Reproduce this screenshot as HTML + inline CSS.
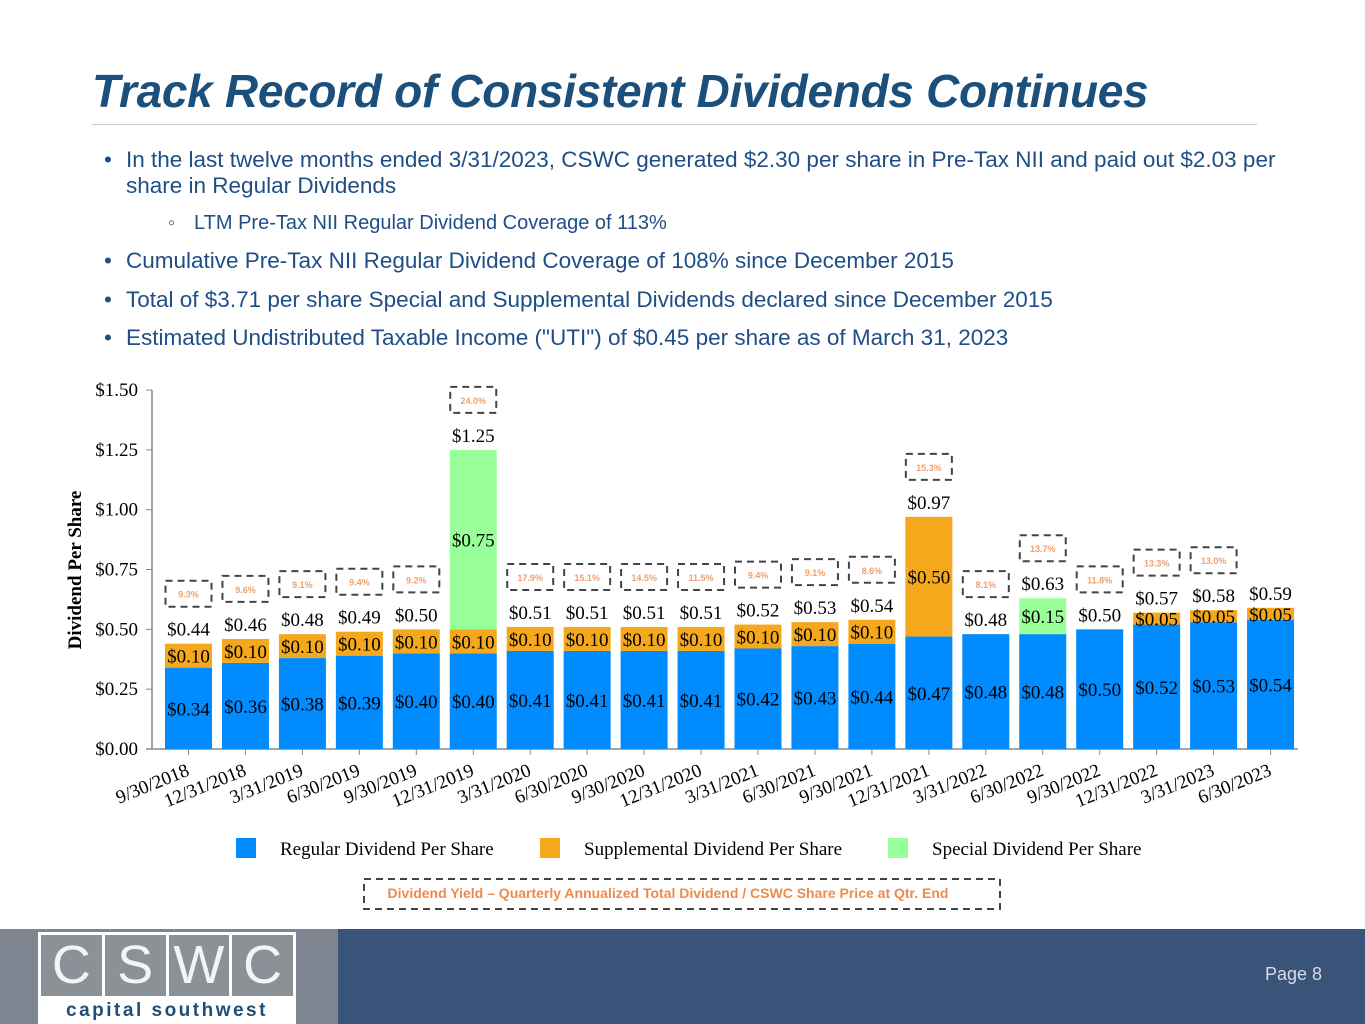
<!DOCTYPE html>
<html><head><meta charset="utf-8"><style>
body{margin:0;width:1365px;height:1024px;overflow:hidden;background:#fff;font-family:"Liberation Sans",sans-serif;position:relative}
.title{position:absolute;left:92px;top:64px;font-size:46px;font-weight:bold;font-style:italic;color:#1b4f7c;letter-spacing:-0.3px;white-space:nowrap}
.rule{position:absolute;left:92px;top:124px;width:1165px;height:1px;background:#c8c8c8}
.b{position:absolute;font-size:22.5px;line-height:26px;color:#1f4e87;left:104px;white-space:nowrap}
.b span{position:absolute;left:0}
.b div{margin-left:22px}
</style></head><body>
<div class="title">Track Record of Consistent Dividends Continues</div>
<div class="rule"></div>
<div class="b" style="top:147px;width:1200px;white-space:normal"><span>•</span><div>In the last twelve months ended 3/31/2023, CSWC generated $2.30 per share in Pre-Tax NII and paid out $2.03 per share in Regular Dividends</div></div>
<div class="b" style="top:210px;left:168px;font-size:20px"><span>◦</span><div style="margin-left:26px">LTM Pre-Tax NII Regular Dividend Coverage of 113%</div></div>
<div class="b" style="top:248px"><span>•</span><div>Cumulative Pre-Tax NII Regular Dividend Coverage of 108% since December 2015</div></div>
<div class="b" style="top:287px"><span>•</span><div>Total of $3.71 per share Special and Supplemental Dividends declared since December 2015</div></div>
<div class="b" style="top:325px"><span>•</span><div>Estimated Undistributed Taxable Income ("UTI") of $0.45 per share as of March 31, 2023</div></div>

<svg id="chart" width="1365" height="920" style="position:absolute;left:0;top:0"></svg>

<div style="position:absolute;left:0;top:929px;width:338px;height:95px;background:#7f8590"></div>
<div style="position:absolute;left:338px;top:929px;width:1027px;height:95px;background:#3a5479"></div>
<div style="position:absolute;left:38px;top:932px;width:258px;height:92px;background:#fff">
 <div style="display:flex;gap:3px;padding:3px 3px 0 3px">
  <div style="flex:1;height:61px;background:#8c9097;color:#f4f4f4;font-size:54px;text-align:center;line-height:61px">C</div>
  <div style="flex:1;height:61px;background:#8c9097;color:#f4f4f4;font-size:54px;text-align:center;line-height:61px">S</div>
  <div style="flex:1;height:61px;background:#8c9097;color:#f4f4f4;font-size:54px;text-align:center;line-height:61px">W</div>
  <div style="flex:1;height:61px;background:#8c9097;color:#f4f4f4;font-size:54px;text-align:center;line-height:61px">C</div>
 </div>
 <div style="text-align:center;color:#1f4e79;font-size:19px;font-weight:bold;letter-spacing:2.5px;margin-top:4px">capital southwest</div>
</div>
<div style="position:absolute;right:43px;top:964px;color:#d8dde5;font-size:18px">Page 8</div>

<script>
const categories=["9/30/2018","12/31/2018","3/31/2019","6/30/2019","9/30/2019","12/31/2019","3/31/2020","6/30/2020","9/30/2020","12/31/2020","3/31/2021","6/30/2021","9/30/2021","12/31/2021","3/31/2022","6/30/2022","9/30/2022","12/31/2022","3/31/2023","6/30/2023"];
const regular=[0.34,0.36,0.38,0.39,0.40,0.40,0.41,0.41,0.41,0.41,0.42,0.43,0.44,0.47,0.48,0.48,0.50,0.52,0.53,0.54];
const supplemental=[0.10,0.10,0.10,0.10,0.10,0.10,0.10,0.10,0.10,0.10,0.10,0.10,0.10,0.50,0,0,0,0.05,0.05,0.05];
const special=[0,0,0,0,0,0.75,0,0,0,0,0,0,0,0,0,0.15,0,0,0,0];
const yields=["9.3%","9.6%","9.1%","9.4%","9.2%","24.0%","17.9%","15.1%","14.5%","11.5%","9.4%","9.1%","8.6%","15.3%","8.1%","13.7%","11.8%","13.3%","13.0%",""];
const yTicks=[0,0.25,0.5,0.75,1.0,1.25,1.5];
const NS="http://www.w3.org/2000/svg";
const svg=document.getElementById('chart');
const y0=749,yScale=239.3,x0=188.5,pitch=56.95,bw=47;
const Y=v=>y0-v*yScale, X=i=>x0+i*pitch;
function mk(t,a,p){const e=document.createElementNS(NS,t);for(const k in a)e.setAttribute(k,a[k]);(p||svg).appendChild(e);return e;}
const serif='"Liberation Serif",serif';
mk('line',{x1:152,y1:390,x2:152,y2:y0,stroke:'#888','stroke-width':1.5});
mk('line',{x1:146,y1:y0,x2:1298,y2:y0,stroke:'#888','stroke-width':1.5});
yTicks.forEach(v=>{
 mk('line',{x1:146,y1:Y(v),x2:152,y2:Y(v),stroke:'#888'});
 const t=mk('text',{x:138,y:Y(v)+6,'text-anchor':'end','font-family':serif,'font-size':19,fill:'#000'});t.textContent='$'+v.toFixed(2);
 
});
const yt=mk('text',{transform:'translate(81,570) rotate(-90)','text-anchor':'middle','font-family':serif,'font-size':19,'font-weight':'bold',fill:'#000'});yt.textContent='Dividend Per Share';

function lab(x,y,txt,name){const t=mk('text',{x:x,y:y,'text-anchor':'middle','font-family':serif,'font-size':19,fill:'#000'});t.textContent=txt;return t;}
categories.forEach((c,i)=>{
 const cx=X(i),l=cx-bw/2;
 const r=regular[i],s=supplemental[i],sp=special[i],tot=r+s+sp;
 let e=mk('rect',{x:l,y:Y(r),width:bw,height:r*yScale,fill:'#008cff'});
 
 lab(cx,(Y(r)+y0)/2+7,'$'+r.toFixed(2),'label-regular');
 if(s>0){e=mk('rect',{x:l,y:Y(r+s),width:bw,height:s*yScale,fill:'#f5a81c'});
  
  lab(cx,(Y(r)+Y(r+s))/2+7,'$'+s.toFixed(2),'label-supplemental');}
 if(sp>0){e=mk('rect',{x:l,y:Y(r+s+sp),width:bw,height:sp*yScale,fill:'#99ff99'});
  
  lab(cx,(Y(r+s)+Y(tot))/2+7,'$'+sp.toFixed(2),'label-special');}
 lab(cx,Y(tot)-8,'$'+tot.toFixed(2),'label-total');
 if(yields[i]){
  const by=Y(tot)-50;
  e=mk('rect',{x:cx-23,y:by-13,width:46,height:26,fill:'none',stroke:'#444','stroke-width':2,'stroke-dasharray':'7,5'});
  
  const t=mk('text',{x:cx,y:by+4,'text-anchor':'middle','font-family':'"Liberation Sans",sans-serif','font-size':9,'font-weight':'bold',fill:'#f0a070'});t.textContent=yields[i];
  
 }
 mk('line',{x1:cx,y1:y0,x2:cx,y2:y0+6,stroke:'#888'});
 const t=mk('text',{transform:`translate(${cx+2},${y0+26}) rotate(-22)`,'text-anchor':'end','font-family':serif,'font-size':19,fill:'#000'});t.textContent=c;
 
});
[['#008cff','Regular Dividend Per Share',236],['#f5a81c','Supplemental Dividend Per Share',540],['#99ff99','Special Dividend Per Share',888]].forEach(d=>{
 const g=mk('g',{});
 mk('rect',{x:d[2],y:838,width:20,height:20,fill:d[0]},g);
 const t=mk('text',{x:d[2]+44,y:855,'font-family':serif,'font-size':19,fill:'#000'},g);t.textContent=d[1];
});
let e=mk('rect',{x:364,y:879,width:636,height:30,fill:'none',stroke:'#444','stroke-width':2,'stroke-dasharray':'7,5'});

const nt=mk('text',{x:668,y:898,'text-anchor':'middle','font-family':'"Liberation Sans",sans-serif','font-size':14,'font-weight':'bold',fill:'#ee8a4a'});nt.textContent='Dividend Yield – Quarterly Annualized Total Dividend / CSWC Share Price at Qtr. End';

</script>
</body></html>
